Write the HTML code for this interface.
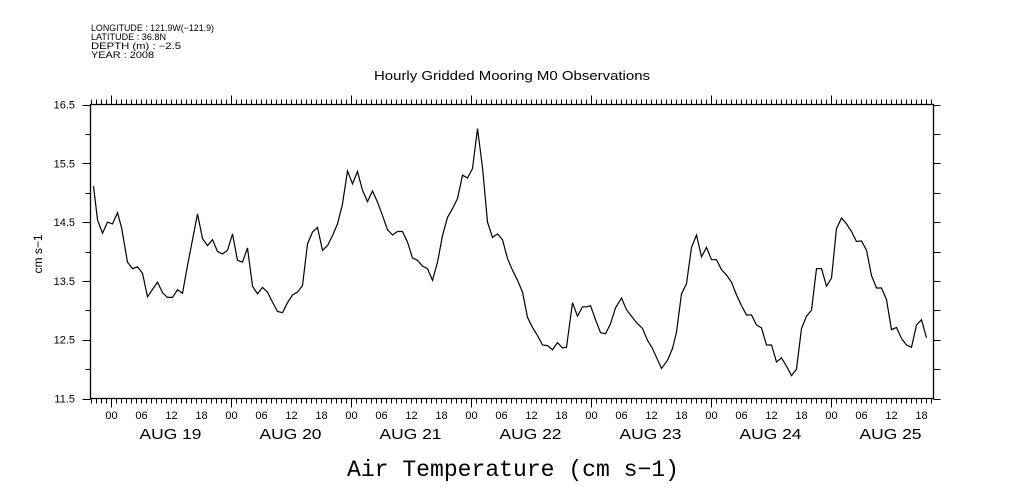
<!DOCTYPE html>
<html><head><meta charset="utf-8"><style>
body{margin:0;background:#fff;width:1009px;height:504px;overflow:hidden}
svg{display:block}
text{font-family:"Liberation Sans",sans-serif;fill:#000}
</style></head><body>
<svg id="chart" width="1009" height="504" viewBox="0 0 1009 504">
<g font-size="9">
<text x="91" y="31" textLength="123" lengthAdjust="spacingAndGlyphs">LONGITUDE : 121.9W(−121.9)</text>
<text x="91" y="40" textLength="75" lengthAdjust="spacingAndGlyphs">LATITUDE : 36.8N</text>
<text x="91" y="49" textLength="90" lengthAdjust="spacingAndGlyphs">DEPTH (m) : −2.5</text>
<text x="91" y="58" textLength="63" lengthAdjust="spacingAndGlyphs">YEAR : 2008</text>
</g>
<text x="374" y="80" font-size="13" textLength="276" lengthAdjust="spacingAndGlyphs">Hourly Gridded Mooring M0 Observations</text>
<text x="0" y="0" font-size="12" text-anchor="middle" transform="translate(42,254) rotate(-90)">cm s−1</text>
<text x="347" y="476" font-size="23" textLength="332" lengthAdjust="spacingAndGlyphs" style="font-family:'Liberation Mono',monospace">Air Temperature (cm s−1)</text>
<g id="axes"></g>
<rect x="90.5" y="104.5" width="843" height="294" fill="none" stroke="#000" stroke-width="1.3"/>
<path id="series" fill="none" stroke="#000" stroke-width="1.2"/>
</svg>
<script>
// hours relative to Aug 19 00:00
const hours=[-3.4,-2.6,-1.6,-0.6,0.4,1.4,2.2,3.4,4.4,5.4,6.4,7.4,9.4,10.4,11.4,12.4,13.4,14.4,15.4,17.4,18.4,19.4,20.4,21.4,22.4,23.4,24.4,25.4,26.4,27.4,28.4,29.4,30.4,31.4,32.4,33.4,34.4,35.4,36.4,37.4,38.4,39.4,40.4,41.4,42.4,43.4,44.4,45.4,46.4,47.4,48.4,49.4,50.4,51.4,52.4,53.4,54.4,55.4,56.4,57.4,58.4,59.4,60.4,61.4,62.4,63.4,64.4,65.4,66.4,67.4,68.4,69.4,70.4,71.4,72.4,73.4,74.4,75.4,76.4,77.4,78.4,79.4,80.4,81.4,82.4,83.4,84.4,85.4,86.4,87.4,88.4,89.4,90.4,91.2,92.4,93.4,94.4,95.4,96,97,98,99,100,101,102.2,103.2,104.2,105.2,106.4,107.4,108.4,110.2,111.4,112.4,113.2,114.2,115.2,116.2,117.2,118.2,119.2,120.2,121.2,122.2,123.2,124.2,125.2,126.2,127.2,128.2,129.2,130.2,131.2,132.2,133.2,134.2,135.2,136.2,137.2,138.2,139.2,140.2,141.2,142.2,143.2,144.2,145.2,146.2,147.2,148.2,149.2,150.2,151.2,152.2,153.2,154.2,155.2,156.2,157.2,158.2,159.2,160.2,161.2,162.2,163.2];
const temps=[15.11,14.54,14.31,14.5,14.47,14.66,14.41,13.82,13.71,13.74,13.63,13.23,13.48,13.30,13.22,13.22,13.35,13.29,13.76,14.64,14.22,14.10,14.2,14.0,13.96,14.02,14.3,13.85,13.82,14.06,13.41,13.28,13.39,13.31,13.14,12.98,12.96,13.13,13.26,13.31,13.42,14.13,14.33,14.41,14.02,14.10,14.27,14.47,14.81,15.37,15.15,15.36,15.04,14.85,15.03,14.84,14.61,14.37,14.28,14.34,14.34,14.16,13.89,13.85,13.75,13.71,13.51,13.82,14.27,14.58,14.73,14.90,15.30,15.25,15.41,16.09,15.43,14.50,14.24,14.30,14.20,13.88,13.68,13.51,13.31,12.88,12.71,12.57,12.41,12.40,12.33,12.45,12.36,12.37,13.13,12.90,13.06,13.06,13.08,12.84,12.62,12.60,12.77,13.04,13.21,13.01,12.90,12.79,12.69,12.49,12.35,12.01,12.15,12.35,12.63,13.28,13.45,14.07,14.28,13.91,14.07,13.86,13.86,13.69,13.60,13.48,13.26,13.08,12.92,12.92,12.75,12.70,12.41,12.41,12.12,12.19,12.05,11.89,12.0,12.69,12.90,13.0,13.71,13.71,13.41,13.55,14.39,14.57,14.47,14.34,14.17,14.18,14.02,13.59,13.38,13.38,13.18,12.67,12.71,12.52,12.41,12.37,12.75,12.84,12.53];
const yTicks=["11.5","12.5","13.5","14.5","15.5","16.5"];
const hourLabels=["00","06","12","18"];
const dayLabels=["AUG 19","AUG 20","AUG 21","AUG 22","AUG 23","AUG 24","AUG 25"];

const X0=90.5,X1=933.5,Y0=104.5,Y1=398.5;
const hMin=-4,hMax=164.6,vMin=11.5,vMax=16.5;
const xs=h=>X0+(h-hMin)/(hMax-hMin)*(X1-X0);
const ys=v=>Y1-(v-vMin)/(vMax-vMin)*(Y1-Y0);
const NS='http://www.w3.org/2000/svg';
const axes=document.getElementById('axes');
function ln(x1,y1,x2,y2){const l=document.createElementNS(NS,'line');l.setAttribute('x1',x1);l.setAttribute('y1',y1);l.setAttribute('x2',x2);l.setAttribute('y2',y2);l.setAttribute('stroke','#000');l.setAttribute('stroke-width','1');axes.appendChild(l);return l;}
function tx(x,y,s,size,anchor){const t=document.createElementNS(NS,'text');t.setAttribute('x',x);t.setAttribute('y',y);t.setAttribute('font-size',size);t.setAttribute('text-anchor',anchor);t.textContent=s;axes.appendChild(t);return t;}
for(let h=Math.ceil(hMin);h<=hMax;h++){
  const x=Math.round(xs(h))+0.5;const major=((h%24)+24)%24===0;const len=major?9:5;
  const a=ln(x,Y0,x,Y0-len);
  const b=ln(x,Y1,x,Y1+len);
  if(h>=0&&h%6===0){const t=tx(x,419,hourLabels[(h%24)/6],11,'middle');}
}
dayLabels.forEach((d,i)=>{const t=tx(xs(i*24+12)-31,439,d,15,'start');t.setAttribute('textLength','62');t.setAttribute('lengthAdjust','spacingAndGlyphs');});
for(let k=0;k<=10;k++){
  const v=vMin+k*0.5;
  const y=Math.round(ys(v))+0.5;
  const a=ln(X0,y,X0-(k%2===0?8:5),y);
  
  const b=ln(X1,y,X1+7,y);
}
yTicks.forEach(s=>{const t=tx(75,ys(parseFloat(s))+4,s,11,'end');});
document.getElementById('series').setAttribute('d',hours.map((h,i)=>(i?'L':'M')+xs(h).toFixed(1)+','+ys(temps[i]).toFixed(1)).join(''));
</script>
</body></html>
